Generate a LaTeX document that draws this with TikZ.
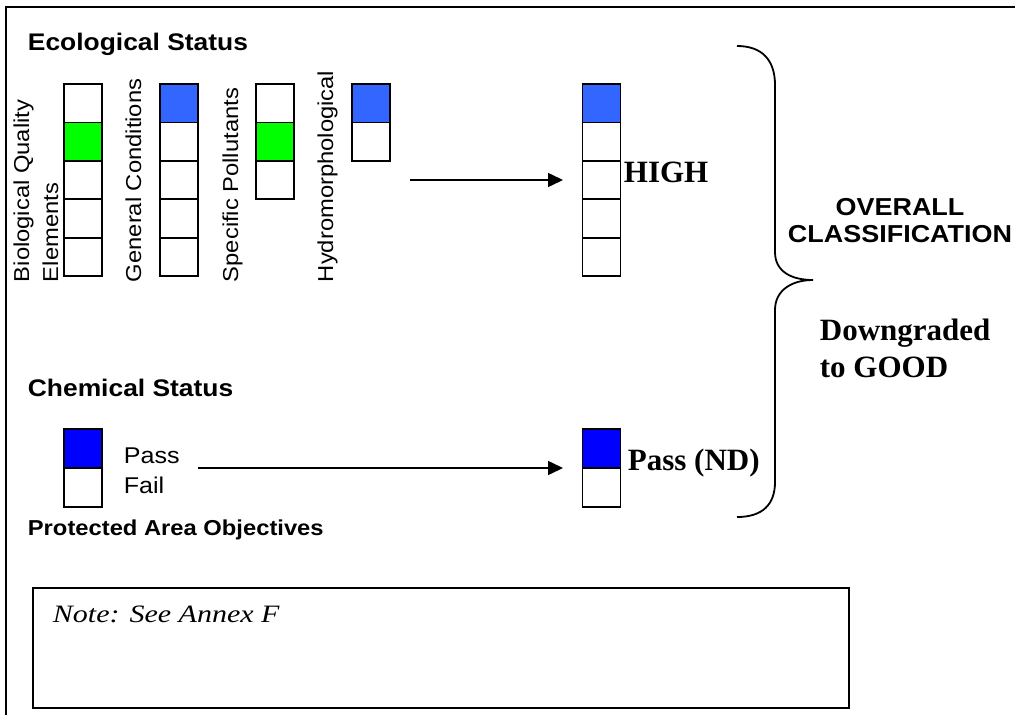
\documentclass[tikz,border=0pt]{standalone}
\usepackage{fontspec}
\setmainfont{Liberation Serif}
\setsansfont{Liberation Sans}[FakeStretch=1.1]
\newfontfamily\notefont{Liberation Serif}[FakeStretch=1.2]
\usetikzlibrary{arrows.meta,positioning}
\definecolor{ecoblue}{HTML}{3366FF}
\definecolor{ecogreen}{HTML}{00FF00}
\definecolor{chemblue}{HTML}{0000FF}

\begin{document}
\begin{tikzpicture}[x=1pt,y=-1pt,line width=1.8pt,
  cell/.style={draw, minimum width=38pt, minimum height=38.4pt, inner sep=0pt, outer sep=0pt},
  chemcell/.style={cell, minimum height=39pt},
  head/.style={font=\sffamily\bfseries\fontsize{24}{29}\selectfont, anchor=base west, inner sep=0pt},
  sidelabel/.style={font=\sffamily\fontsize{21.6}{26}\selectfont, rotate=90, anchor=base west, inner sep=0pt},
  plain/.style={font=\sffamily\fontsize{22.8}{27}\selectfont, anchor=base west, inner sep=0pt},
  result/.style={font=\bfseries\fontsize{31}{37}\selectfont, anchor=base west, inner sep=0pt},
  flow/.style={-{Triangle[length=15pt,width=14pt]}, line width=1.6pt}]
\useasboundingbox (0,0) rectangle (1015,715);
\draw (6,715) -- (6,7) -- (1015,7);

% ecological status
\node[head] (ecohead) at (27,50) {Ecological Status};
\foreach \i/\c in {1/white,2/ecogreen,3/white,4/white,5/white}
  \node[cell, fill=\c] (bio\i) at (83,64.8+38.4*\i) {};
\foreach \i/\c in {1/ecoblue,2/white,3/white,4/white,5/white}
  \node[cell, fill=\c] (gen\i) at (179,64.8+38.4*\i) {};
\foreach \i/\c in {1/white,2/ecogreen,3/white}
  \node[cell, fill=\c] (spec\i) at (275,64.8+38.4*\i) {};
\foreach \i/\c in {1/ecoblue,2/white}
  \node[cell, fill=\c] (hyd\i) at (371,64.8+38.4*\i) {};
\node[sidelabel] (biolabA) at (29,283) {Biological Quality};
\node[sidelabel] (biolabB) at (58,283) {Elements};
\node[sidelabel] (genlabel) at (141,283) {General Conditions};
\node[sidelabel] (speclabel) at (238,283) {Specific Pollutants};
\node[sidelabel] (hydlabel) at (333,283) {Hydromorphological};

% overall ecological result
\foreach \i/\c in {1/ecoblue,2/white,3/white,4/white,5/white}
  \node[cell, fill=\c] (high\i) at (601.5,64.8+38.4*\i) {};
\node[result] (high) at (623,182) {HIGH};
\coordinate (ecostart) at (410,180);
\draw[flow, shorten >=19.5pt] (ecostart) -- (high3.west);

% chemical status
\node[head] (chemhead) at (27,396) {Chemical Status};
\foreach \i/\c in {1/chemblue,2/white}
  \node[chemcell, fill=\c] (chem\i) at (83,409.5+39*\i) {};
\node[plain] (pass) at (123,463) {Pass};
\node[plain] (fail) at (123,493) {Fail};
\node[head, font=\sffamily\bfseries\fontsize{21.6}{26}\selectfont] (protected) at (27,535) {Protected Area Objectives};
\foreach \i/\c in {1/chemblue,2/white}
  \node[chemcell, fill=\c] (chemres\i) at (601.5,409.5+39*\i) {};
\node[result] (passnd) at (627,470) {Pass (ND)};
\coordinate (chemstart) at (198,468);
\draw[flow, shorten >=19.5pt] (chemstart) -- (chemres1.south west);

% brace and overall classification
\draw (737,46) .. controls (762,46) and (775,60) .. (775,85) -- (775,252)
  .. controls (775,272) and (792,280) .. (813,280)
  .. controls (792,280) and (775,290) .. (775,310) -- (775,482)
  .. controls (775,505) and (762,517) .. (737,517);
\node[font=\sffamily\bfseries\fontsize{24.5}{27}\selectfont, align=center, anchor=base, inner sep=0pt] (overall) at (900,242) {OVERALL\\CLASSIFICATION};
\node[result, align=left] (downgraded) at (819,377) {Downgraded\\to GOOD};

% note
\node[draw, minimum width=816pt, minimum height=120pt, anchor=north west, inner sep=0pt] (notebox) at (32,587) {};
\node[anchor=base west, inner sep=0pt, font=\notefont\itshape\fontsize{25}{30}\selectfont] (note) at ([xshift=20pt,yshift=-35pt]notebox.north west) {Note: See Annex F};
\end{tikzpicture}
\end{document}
